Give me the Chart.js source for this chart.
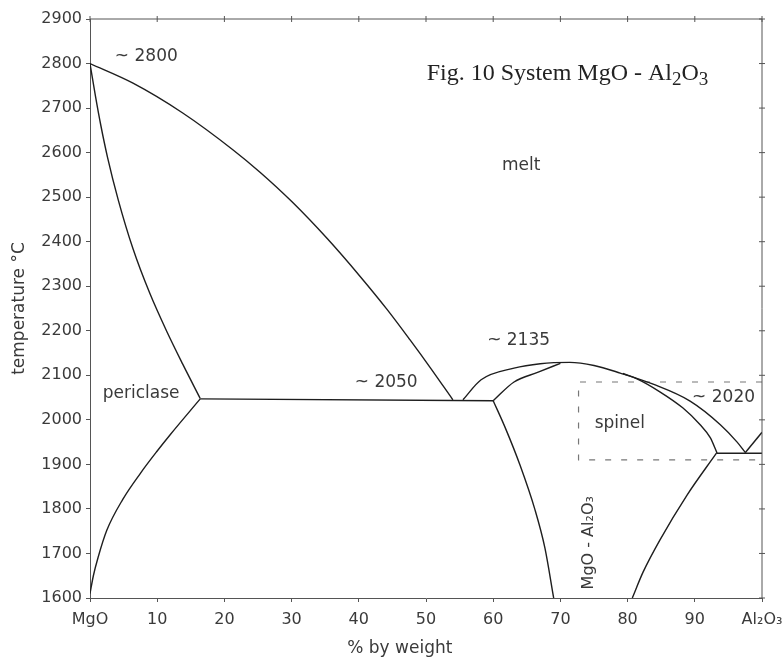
<!DOCTYPE html>
<html>
<head>
  <meta charset="utf-8">
  <title>System MgO - Al2O3</title>
  <style>
    html, body { margin: 0; padding: 0; background: #fff; }
  </style>
</head>
<body>
  <canvas id="phase-chart" width="783" height="661"></canvas>

  <script src="https://cdn.jsdelivr.net/npm/chart.js"></script>
  <script>
    // axes: wt% Al2O3 across, temperature (°C) up
    const xTickValues = [0, 10, 20, 30, 40, 50, 60, 70, 80, 90, 100];
    const xTickLabels = ['MgO', '10', '20', '30', '40', '50', '60', '70', '80', '90', 'Al₂O₃'];
    const yTickValues = [1600, 1700, 1800, 1900, 2000, 2100, 2200, 2300, 2400, 2500, 2600, 2700, 2800, 2900];

    // phase boundaries, [wt%, °C]
    const liquidusPericlase = [[0, 2800], [6.4, 2756], [13.8, 2689], [21.3, 2606], [25.3, 2556], [30.1, 2489],
      [35.3, 2407], [40.2, 2322], [44.2, 2248], [47.6, 2180], [50.6, 2118], [54, 2045]];
    const solidusPericlase = [[0, 2800], [0.8, 2728], [1.6, 2662], [2.6, 2590], [4.2, 2494], [6.4, 2384],
      [8.9, 2284], [11.5, 2196], [13.8, 2125], [16.4, 2048]];
    const solvusPericlase = [[0, 1610], [0.5, 1650], [1.2, 1691], [2.5, 1752], [4.9, 1822], [7.5, 1880],
      [10, 1930], [11.9, 1966], [16.4, 2047]];
    const eutecticLeft = [[16.4, 2047], [60, 2043]];
    const liquidusSpinel = [[55.5, 2045], [58.2, 2090], [63.1, 2116], [67, 2126], [71.4, 2129], [75, 2122],
      [78.9, 2105], [83.8, 2080], [89.3, 2042], [93.8, 1989], [96.3, 1950], [97.5, 1927]];
    const solidusSpinelLeft = [[60, 2043], [63.1, 2085], [66.7, 2107], [70, 2127]];
    const solidusSpinelRight = [[79.3, 2104], [81.4, 2092], [84.8, 2063], [88.2, 2027], [90.8, 1989],
      [92.3, 1960], [93.3, 1926]];
    const solvusSpinelLeft = [[60, 2043], [61.8, 1982], [64, 1898], [66.2, 1799], [67.7, 1712], [69, 1600]];
    const solvusSpinelRight = [[80.7, 1600], [82.3, 1658], [84.8, 1730], [88.8, 1830], [93.3, 1927]];
    const eutecticRight = [[93.3, 1925], [100, 1925]];
    const liquidusCorundum = [[97.5, 1926], [100, 1972]];
    const spinelBox = [[100, 2085], [72.7, 2085], [72.7, 1910], [100, 1910]];

    // text placed in data coordinates
    const notes = [
      { text: '~ 2800', x: 3.7, y: 2815 },
      { text: '~ 2050', x: 39.4, y: 2083 },
      { text: '~ 2135', x: 59.1, y: 2179 },
      { text: '~ 2020', x: 89.6, y: 2051 },
      { text: 'periclase', x: 1.9, y: 2060 },
      { text: 'spinel', x: 75.1, y: 1991 },
      { text: 'melt', x: 61.3, y: 2572 }
    ];

    const lineColor = '#1e1e1e';
    const axisColor = '#555';
    const textColor = '#3a3a3a';
    const sans = '"DejaVu Sans", sans-serif';

    const toPts = arr => arr.map(([x, y]) => ({ x, y }));

    function curve(pts, smooth, extra) {
      return Object.assign({
        data: toPts(pts),
        borderColor: lineColor,
        borderWidth: 1.4,
        pointRadius: 0,
        tension: smooth ? 0.4 : 0,
        cubicInterpolationMode: smooth ? 'monotone' : 'default',
        fill: false
      }, extra || {});
    }

    const overlay = {
      id: 'overlay',
      afterDraw(chart) {
        const { ctx, chartArea: a, scales: { x, y } } = chart;
        ctx.save();

        // top and right frame with small ticks
        ctx.strokeStyle = axisColor;
        ctx.lineWidth = 1;
        ctx.beginPath();
        ctx.moveTo(a.left, a.top);
        ctx.lineTo(a.right, a.top);
        ctx.lineTo(a.right, a.bottom);
        xTickValues.forEach(v => {
          const px = x.getPixelForValue(v);
          ctx.moveTo(px, a.top - 3);
          ctx.lineTo(px, a.top + 3);
        });
        yTickValues.forEach(v => {
          const py = y.getPixelForValue(v);
          ctx.moveTo(a.right - 3, py);
          ctx.lineTo(a.right + 3, py);
        });
        ctx.stroke();

        // annotations
        ctx.fillStyle = textColor;
        ctx.font = '17px ' + sans;
        ctx.textBaseline = 'middle';
        ctx.textAlign = 'left';
        notes.forEach(n => ctx.fillText(n.text, x.getPixelForValue(n.x), y.getPixelForValue(n.y)));

        // vertical compound label
        ctx.save();
        ctx.translate(x.getPixelForValue(74.3), y.getPixelForValue(1724));
        ctx.rotate(-Math.PI / 2);
        ctx.textAlign = 'center';
        ctx.font = '16px ' + sans;
        ctx.fillText('MgO - Al₂O₃', 0, 0);
        ctx.restore();

        // x axis title
        ctx.textAlign = 'center';
        ctx.textBaseline = 'alphabetic';
        ctx.font = '17px ' + sans;
        ctx.fillText('% by weight', x.getPixelForValue(46.1), 653);

        // figure caption, serif with lowered subscripts
        const big = '24px "Liberation Serif", serif';
        const small = '19px "Liberation Serif", serif';
        let cx = x.getPixelForValue(50.1);
        const cy = y.getPixelForValue(2763);
        ctx.textAlign = 'left';
        ctx.fillStyle = '#222';
        [['Fig. 10 System MgO - Al', big, 0], ['2', small, 5], ['O', big, 0], ['3', small, 5]].forEach(([t, f, dy]) => {
          ctx.font = f;
          ctx.fillText(t, cx, cy + dy);
          cx += ctx.measureText(t).width;
        });

        ctx.restore();
      }
    };

    new Chart(document.getElementById('phase-chart'), {
      type: 'line',
      data: {
        datasets: [
          curve(liquidusPericlase, true),
          curve(solidusPericlase, true),
          curve(solvusPericlase, true),
          curve(eutecticLeft, false),
          curve(liquidusSpinel, true),
          curve(solidusSpinelLeft, true),
          curve(solidusSpinelRight, true),
          curve(solvusSpinelLeft, true),
          curve(solvusSpinelRight, true),
          curve(eutecticRight, false),
          curve(liquidusCorundum, false),
          curve(spinelBox, false, { borderColor: '#777', borderWidth: 1.2, borderDash: [6, 10] })
        ]
      },
      options: {
        responsive: false,
        animation: false,
        layout: { padding: { top: 19, right: 21, left: 0, bottom: 0 } },
        plugins: { legend: { display: false }, tooltip: { enabled: false } },
        scales: {
          x: {
            type: 'linear',
            min: 0,
            max: 100,
            afterFit: s => { s.height = 63; s.paddingRight = 0; s.paddingLeft = 0; },
            afterBuildTicks: s => { s.ticks = xTickValues.map(v => ({ value: v })); },
            border: { display: true, color: axisColor, width: 1 },
            grid: { drawOnChartArea: false, drawTicks: true, tickLength: 4, color: axisColor },
            ticks: {
              padding: 8,
              color: textColor,
              font: { family: sans, size: 16 },
              maxRotation: 0,
              callback: v => xTickLabels[xTickValues.indexOf(v)]
            }
          },
          y: {
            type: 'linear',
            min: 1600,
            max: 2900,
            afterFit: s => { s.width = 90; },
            afterBuildTicks: s => { s.ticks = yTickValues.map(v => ({ value: v })); },
            border: { display: true, color: axisColor, width: 1 },
            grid: { drawOnChartArea: false, drawTicks: true, tickLength: 4, color: axisColor },
            ticks: { padding: 4, color: textColor, font: { family: sans, size: 16 }, callback: v => String(v) },
            title: {
              display: true,
              text: 'temperature °C',
              color: textColor,
              font: { family: sans, size: 17 },
              padding: { top: 9, bottom: 0 }
            }
          }
        }
      },
      plugins: [overlay]
    });
  </script>
</body>
</html>
